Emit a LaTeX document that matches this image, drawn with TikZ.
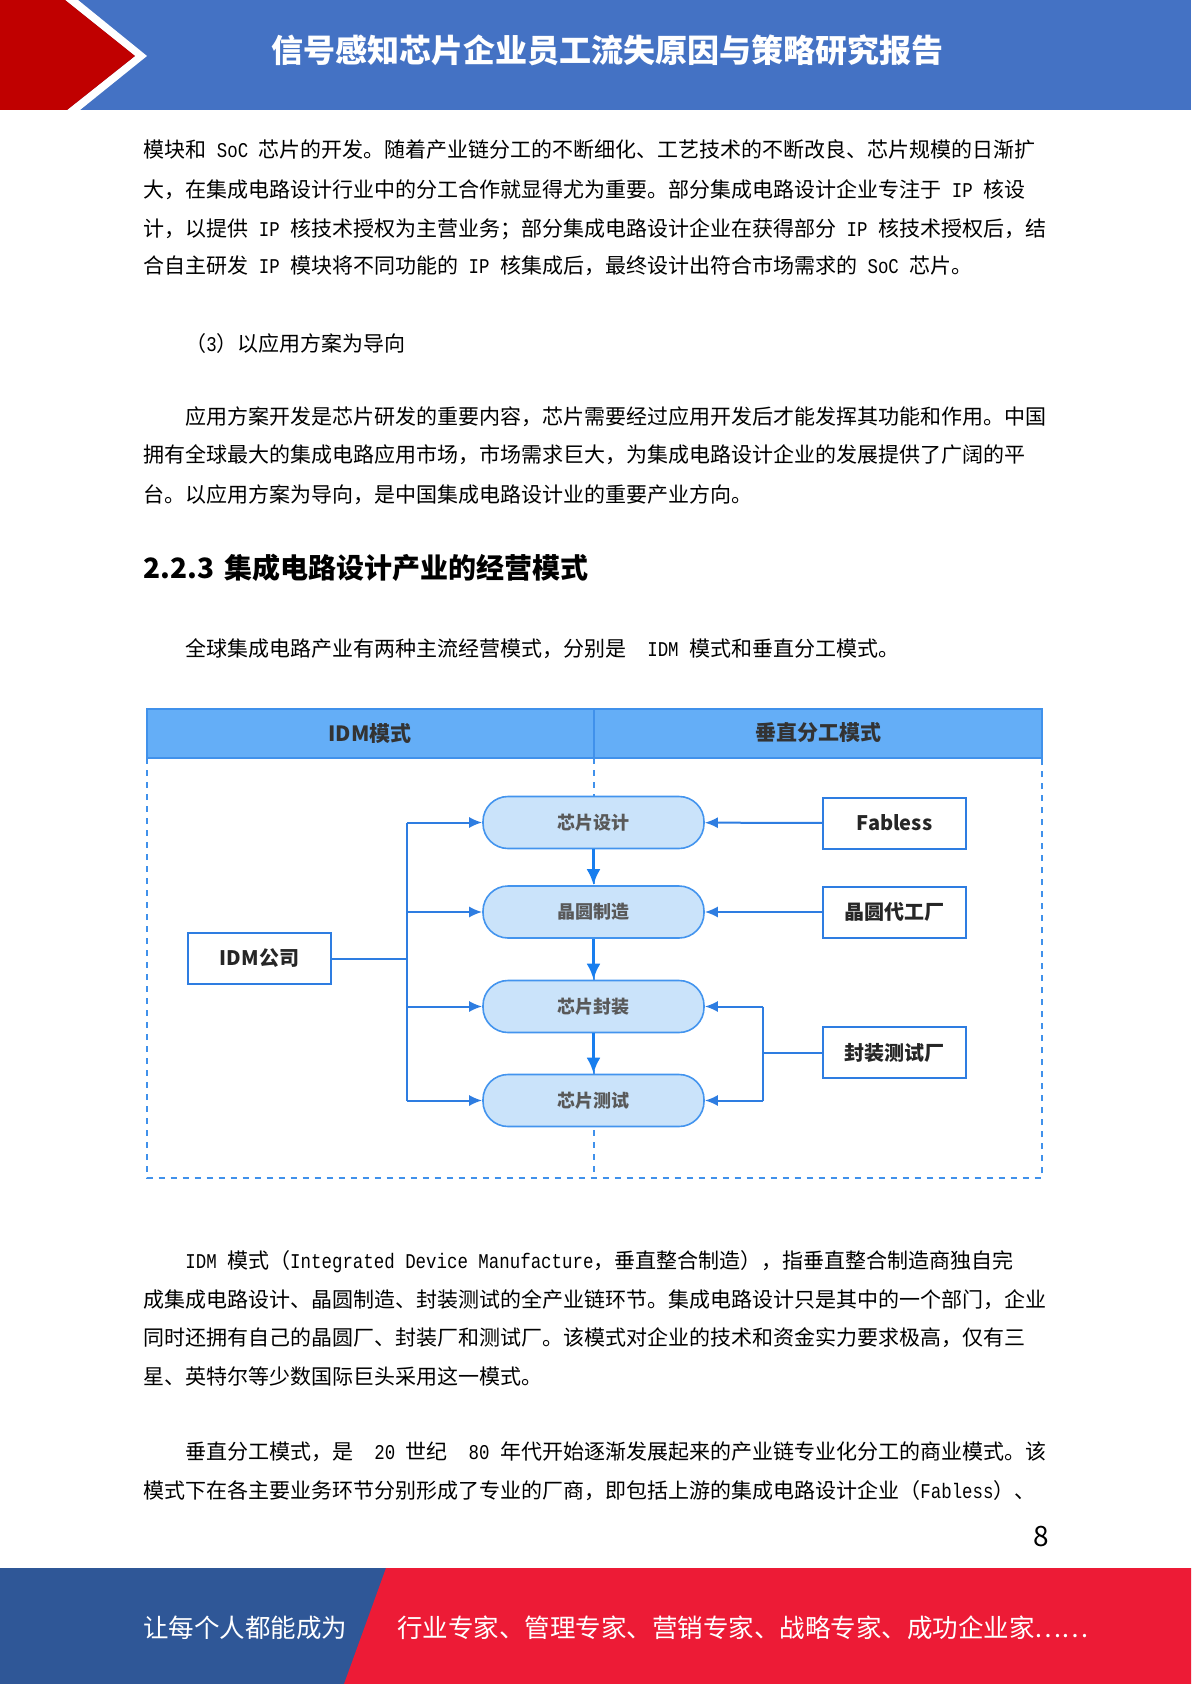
\documentclass[tikz,border=0pt]{standalone}
\usepackage{fontspec}
\setmainfont{Noto Sans CJK SC}
\newfontfamily\enfont[FakeStretch=0.83]{Liberation Mono}
\newcommand\en[1]{{\enfont #1}}
\usetikzlibrary{arrows.meta}
\definecolor{headblue}{RGB}{68,114,196}
\definecolor{headred}{RGB}{192,0,0}
\definecolor{footblue}{RGB}{47,87,151}
\definecolor{footred}{RGB}{237,27,54}
\definecolor{bandfill}{RGB}{100,174,247}
\definecolor{frameblue}{RGB}{64,145,235}
\definecolor{linkblue}{RGB}{46,125,225}
\definecolor{flowblue}{RGB}{24,126,238}
\definecolor{pillfill}{RGB}{202,227,250}
\definecolor{pillline}{RGB}{67,148,238}
\tikzset{
  body/.style={anchor=west,inner sep=0pt,text=black,font=\fontsize{10.5}{12}\selectfont},
  foot/.style={anchor=west,inner sep=0pt,text=white,font=\fontsize{12.75}{14}\selectfont},
  pill/.style={rectangle,rounded corners=12.5pt,draw=pillline,fill=pillfill,line width=0.8pt,
    minimum width=110.5pt,minimum height=26pt,text=black!65,font=\fontsize{9}{10}\selectfont\bfseries},
  firm/.style={rectangle,draw=linkblue,fill=white,line width=1pt,minimum width=71.5pt,
    minimum height=25.5pt,text=black!85,font=\fontsize{10}{12}\selectfont\bfseries},
  bandlabel/.style={text=black!80,font=\fontsize{10.5}{12}\selectfont\bfseries},
  frame/.style={draw=frameblue,line width=0.8pt},
  link/.style={draw=linkblue,line width=1pt},
  arr/.style={link,-{Latex[length=6.5pt,width=5.5pt]}},
  flow/.style={draw=flowblue,line width=1.6pt,-{Latex[length=8pt,width=7pt]}}
}
\begin{document}
\begin{tikzpicture}[x=0.5pt,y=-0.5pt]
  \useasboundingbox (0,0) rectangle (1191,1684);
  \fill[white] (0,0) rectangle (1191,1684);
  % header band
  \fill[headblue] (0,0) rectangle (1191,110);
  \fill[white] (65,0) -- (78,0) -- (147,56) -- (80,110) -- (67,110) -- (135,56) -- cycle;
  \fill[headred] (0,0) -- (65,0) -- (135,56) -- (67,110) -- (0,110) -- cycle;
  \node[text=white,font=\fontsize{16}{18}\selectfont\bfseries] (title) at (607,50) {信号感知芯片企业员工流失原因与策略研究报告};

  % text above the figure
  \node[body] (p1a) at (143,150) {模块和\en{ SoC }芯片的开发。随着产业链分工的不断细化、工艺技术的不断改良、芯片规模的日渐扩};
  \node[body] (p1b) at (143,190) {大，在集成电路设计行业中的分工合作就显得尤为重要。部分集成电路设计企业专注于\en{ IP }核设};
  \node[body] (p1c) at (143,229) {计，以提供\en{ IP }核技术授权为主营业务；部分集成电路设计企业在获得部分\en{ IP }核技术授权后，结};
  \node[body] (p1d) at (143,266) {合自主研发\en{ IP }模块将不同功能的\en{ IP }核集成后，最终设计出符合市场需求的\en{ SoC }芯片。};
  \node[body] (sub3) at (185,344) {（\en{3}）以应用方案为导向};
  \node[body] (p2a) at (185,417) {应用方案开发是芯片研发的重要内容，芯片需要经过应用开发后才能发挥其功能和作用。中国};
  \node[body] (p2b) at (143,455) {拥有全球最大的集成电路应用市场，市场需求巨大，为集成电路设计企业的发展提供了广阔的平};
  \node[body] (p2c) at (143,495) {台。以应用方案为导向，是中国集成电路设计业的重要产业方向。};
  \node[body,font=\fontsize{14}{16}\selectfont\bfseries] (sec) at (143,568) {2.2.3\hspace{5pt}集成电路设计产业的经营模式};
  \node[body] (p3a) at (185,649) {全球集成电路产业有两种主流经营模式，分别是\en{\ \ IDM\ }模式和垂直分工模式。};

  % figure frame
  \draw[frame,fill=bandfill] (146.7,709) rectangle (1041.7,758);
  \draw[frame] (594,709) -- (594,758);
  \draw[frame,dashed] (146.7,758) -- (146.7,1178) -- (1041.7,1178) -- (1041.7,758);
  \draw[frame,dashed] (594,758) -- (594,1178);
  \node[bandlabel] (idmhead) at (370,733) {IDM模式};
  \node[bandlabel] (vdhead) at (818,733) {垂直分工模式};

  % process steps
  \node[pill] (design) at (593.5,822.5) {芯片设计};
  \node[pill] (wafer) at (593.5,912) {晶圆制造};
  \node[pill] (pack) at (593.5,1006.5) {芯片封装};
  \node[pill] (test) at (593.5,1100.5) {芯片测试};
  \node[firm] (idm) at (259.5,958.5) {IDM公司};
  \node[firm] (fabless) at (894.5,823) {Fabless};
  \node[firm] (foundry) at (894.5,912) {晶圆代工厂};
  \node[firm] (osat) at (894.5,1052.5) {封装测试厂};

  \draw[flow] (design) -- (wafer);
  \draw[flow] (wafer) -- (pack);
  \draw[flow] (pack) -- (test);

  % IDM branches
  \coordinate (split) at (407,958.5);
  \draw[link] (idm) -- (split);
  \draw[link] (split |- design) -- (split |- test);
  \foreach \n in {design,wafer,pack,test}
    \draw[arr] (split |- \n) -- (\n.west);

  % vertical division
  \draw[arr] (fabless) -- (design);
  \draw[arr] (foundry) -- (wafer);
  \coordinate (join) at (763,1052.5);
  \draw[link] (osat) -- (join);
  \draw[link] (join |- pack) -- (join |- test);
  \draw[arr] (join |- pack) -- (pack.east);
  \draw[arr] (join |- test) -- (test.east);

  % text below the figure
  \node[body] (p4a) at (185,1262) {\en{IDM }模式（\en{Integrated Device Manufacture}，垂直整合制造），指垂直整合制造商独自完};
  \node[body] (p4b) at (143,1300) {成集成电路设计、晶圆制造、封装测试的全产业链环节。集成电路设计只是其中的一个部门，企业};
  \node[body] (p4c) at (143,1338) {同时还拥有自己的晶圆厂、封装厂和测试厂。该模式对企业的技术和资金实力要求极高，仅有三};
  \node[body] (p4d) at (143,1376) {星、英特尔等少数国际巨头采用这一模式。};
  \node[body] (p5a) at (185,1452) {垂直分工模式，是\en{\ \ 20\ }世纪\en{\ \ 80\ }年代开始逐渐发展起来的产业链专业化分工的商业模式。该};
  \node[body] (p5b) at (143,1491) {模式下在各主要业务环节分别形成了专业的厂商，即包括上游的集成电路设计企业（\en{Fabless}）、};
  \node[font=\fontsize{14}{16}\selectfont] (pageno) at (1041,1536) {8};

  % footer band
  \fill[footblue] (0,1568) rectangle (1191,1684);
  \fill[footred] (386,1568) -- (1191,1568) -- (1191,1684) -- (344,1684) -- cycle;
  \node[foot] (slogan) at (143,1628) {让每个人都能成为};
  \node[foot] (roles) at (397,1628) {行业专家、管理专家、营销专家、战略专家、成功企业家……};
\end{tikzpicture}
\end{document}
